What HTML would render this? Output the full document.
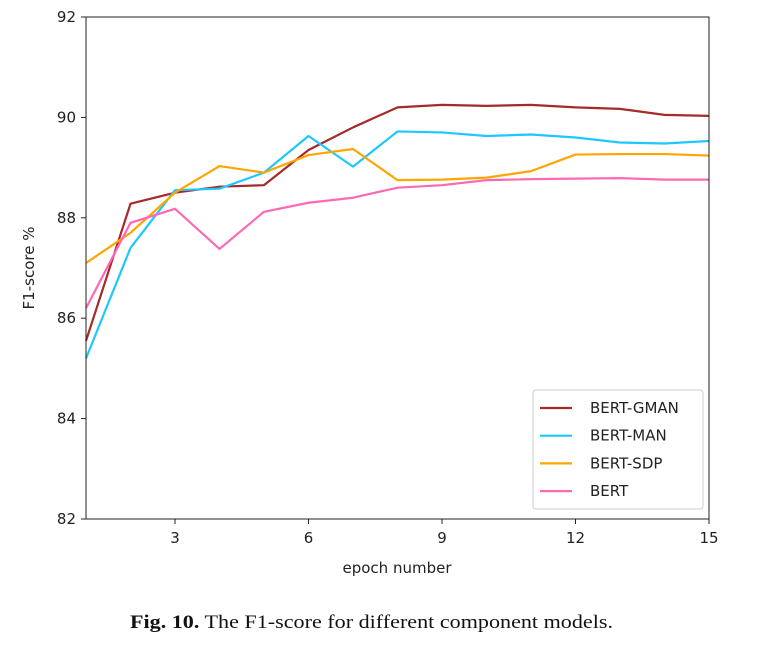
<!DOCTYPE html>
<html><head><meta charset="utf-8"><style>
body{margin:0;background:#fff;width:768px;height:650px;overflow:hidden}
svg text{font-family:"DejaVu Sans","Liberation Sans",sans-serif;fill:#222}
</style></head><body>
<svg width="768" height="650">
<g id="plot"></g>
<text x="130" y="628" textLength="483" lengthAdjust="spacingAndGlyphs" style="font-family:'Liberation Serif',serif;font-size:19px;fill:#111"><tspan font-weight="bold">Fig. 10.</tspan> The F1-score for different component models.</text>
</svg>
<script>
const epochs=[1,2,3,4,5,6,7,8,9,10,11,12,13,14,15];
const gman=[85.55,88.28,88.5,88.62,88.65,89.35,89.8,90.2,90.25,90.23,90.25,90.2,90.17,90.05,90.03];
const man=[85.2,87.4,88.55,88.58,88.9,89.63,89.02,89.72,89.7,89.63,89.66,89.6,89.5,89.48,89.53];
const sdp=[87.1,87.7,88.5,89.03,88.9,89.25,89.37,88.75,88.76,88.8,88.93,89.26,89.27,89.27,89.24];
const bert=[86.2,87.9,88.18,87.38,88.12,88.3,88.4,88.6,88.65,88.75,88.77,88.78,88.79,88.76,88.76];
const xTicks=[3,6,9,12,15];
const yTicks=[82,84,86,88,90,92];
const seriesNames=["BERT-GMAN","BERT-MAN","BERT-SDP","BERT"];
const colors=["#a52a2a","#1ec8ff","#ffa500","#ff69b4"];
const L=86,R=709,T=17,B=519;
const xs=v=>L+(v-1)/(14)*(R-L);
const ys=v=>B-(v-82)/10*(B-T);
const NS="http://www.w3.org/2000/svg";
const g=document.getElementById('plot');
function mk(t,a,txt){const e=document.createElementNS(NS,t);for(const k in a)e.setAttribute(k,a[k]);if(txt!=null)e.textContent=txt;g.appendChild(e);return e;}
const data=[gman,man,sdp,bert];
data.forEach((s,i)=>{
 const p=mk('polyline',{points:s.map((v,j)=>xs(epochs[j])+','+ys(v)).join(' '),fill:'none',stroke:colors[i],'stroke-width':2.2,'stroke-linejoin':'round'});
 
 
});
const fr=mk('rect',{x:L,y:T,width:R-L,height:B-T,fill:'none',stroke:'#222','stroke-width':1});


xTicks.forEach(t=>{
 mk('line',{x1:xs(t),x2:xs(t),y1:B,y2:B+5,stroke:'#222'});
 const e=mk('text',{x:xs(t),y:B+24,'text-anchor':'middle','font-size':15},t);
 
 
});
yTicks.forEach(t=>{
 mk('line',{x1:L-5,x2:L,y1:ys(t),y2:ys(t),stroke:'#222'});
 const e=mk('text',{x:L-10,y:ys(t)+5,'text-anchor':'end','font-size':15},t);
 
 
});
const xt=mk('text',{x:397,y:573,'text-anchor':'middle','font-size':15},'epoch number');


const yt=mk('text',{x:0,y:0,'text-anchor':'middle','font-size':15,transform:'translate(34,268) rotate(-90)'},'F1-score %');


const lg=mk('rect',{x:533,y:390,width:170,height:119,rx:3,fill:'#fff',stroke:'#ccc'});


seriesNames.forEach((n,i)=>{
 const y=408+i*27.7;
 mk('line',{x1:540,x2:572,y1:y,y2:y,stroke:colors[i],'stroke-width':2.2});
 const e=mk('text',{x:590,y:y+5,'font-size':15},n);
 
 
});
</script>
</body></html>
